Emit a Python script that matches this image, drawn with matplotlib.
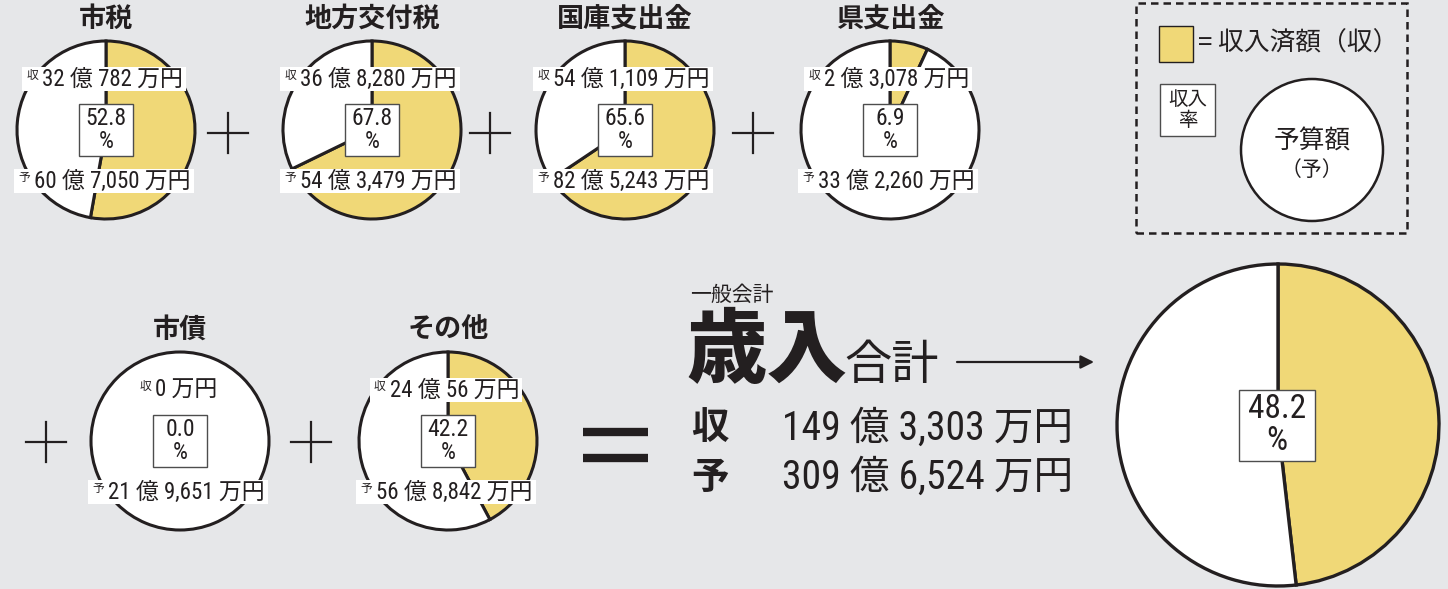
import matplotlib
matplotlib.use('Agg')
import matplotlib.pyplot as plt
from matplotlib import font_manager
from matplotlib.patches import Rectangle, Circle

# --- data ---
titles = ['市税', '地方交付税', '国庫支出金', '県支出金', '市債', 'その他']
rates = [52.8, 67.8, 65.6, 6.9, 0.0, 42.2]
received = ['32 億 782 万円', '36 億 8,280 万円', '54 億 1,109 万円',
            '2 億 3,078 万円', '0 万円', '24 億 56 万円']
budget = ['60 億 7,050 万円', '54 億 3,479 万円', '82 億 5,243 万円',
          '33 億 2,260 万円', '21 億 9,651 万円', '56 億 8,842 万円']
total_rate = 48.2
total_received = '149 億 3,303 万円'
total_budget = '309 億 6,524 万円'

# layout (pixels, y measured from top)
W, H = 1448, 589
centers = [(106, 130), (372, 130), (625, 130), (890, 130), (180, 441), (448, 441)]
radius = 89
plus_pos = [(228, 133), (490, 133), (753, 133), (46, 442), (311, 442)]

bg = '#e6e7e9'
yellow = '#f0d877'
ink = '#231f20'

cjk = 'Noto Sans CJK JP'
names = {f.name for f in font_manager.fontManager.ttflist}
narrow = None
for cand in ['Liberation Sans Narrow', 'Roboto Condensed']:
    if cand in names:
        narrow = cand
        break
num_family = [narrow, cjk] if narrow else [cjk]
plt.rcParams['font.family'] = [cjk, 'DejaVu Sans']

fig = plt.figure(figsize=(W / 100, H / 100), dpi=100, facecolor=bg)
ax = fig.add_axes([0, 0, 1, 1])
ax.set_facecolor(bg)


def Y(py):
    return H - py


def draw_pie(cx, cy, r, rate, lw=2.2):
    ax.pie([rate, 100 - rate], colors=[yellow, 'white'], startangle=90,
           counterclock=False, center=(cx, Y(cy)), radius=r,
           wedgeprops=dict(edgecolor=ink, linewidth=lw))


for (cx, cy), rate in zip(centers, rates):
    draw_pie(cx, cy, radius, rate)
draw_pie(1278, 425, 161, total_rate, lw=2.4)

ax.set_xlim(0, W)
ax.set_ylim(0, H)
ax.set_aspect('equal')
ax.axis('off')
renderer = fig.canvas.get_renderer()


def money_label(cx, cy, tag, value):
    t = ax.text(0, Y(cy), value, fontsize=16.5, family=num_family,
                ha='left', va='center', color=ink, zorder=6)
    w = t.get_window_extent(renderer).width
    sup = 17
    x0 = cx - (w + sup) / 2 + sup
    t.set_x(x0)
    ax.add_patch(Rectangle((x0 - sup - 3, Y(cy) - 12), w + sup + 6, 24,
                           fc='white', ec='none', zorder=5))
    ax.text(x0 - 4, Y(cy) + 10, tag, fontsize=8.5, ha='right', va='top',
            color=ink, zorder=6)


def rate_box(cx, cy, rate, bw=54, bh=52, fs=17):
    ax.add_patch(Rectangle((cx - bw / 2, Y(cy) - bh / 2), bw, bh,
                           fc='white', ec='#4d4d4d', lw=1, zorder=5))
    ax.text(cx, Y(cy), f'{rate:.1f}\n%', fontsize=fs, family=num_family,
            ha='center', va='center', linespacing=1.0, color=ink, zorder=6)


for i, (cx, cy) in enumerate(centers):
    ty = cy - 111
    ax.text(cx, Y(ty), titles[i], fontsize=19.5, fontweight='bold',
            ha='center', va='center', color=ink)
    money_label(cx - 2, cy - 51, '収', received[i])
    money_label(cx - 2, cy + 51, '予', budget[i])
    rate_box(cx, cy, rates[i])

rate_box(1277, 425, total_rate, bw=76, bh=71, fs=24)

# plus signs
for px, py in plus_pos:
    ax.plot([px - 20, px + 20], [Y(py), Y(py)], color=ink, lw=1.6)
    ax.plot([px, px], [Y(py - 20), Y(py + 20)], color=ink, lw=1.6)

# equals sign
for py in (432, 458):
    ax.plot([583, 648], [Y(py), Y(py)], color=ink, lw=6, solid_capstyle='butt')

# total block
ax.text(690, Y(295), '一般会計', fontsize=15, ha='left', va='center', color=ink)
ax.text(686, Y(352), '歳入', fontsize=58, fontweight='heavy', ha='left',
        va='center', color=ink)
ax.text(844, Y(366), '合計', fontsize=34, ha='left', va='center', color=ink)
ax.annotate('', xy=(1094, Y(362)), xytext=(957, Y(362)),
            arrowprops=dict(arrowstyle='-|>', lw=1.6, color=ink,
                            mutation_scale=20, shrinkA=0, shrinkB=0))
ax.text(691, Y(428), '収', fontsize=27, fontweight='bold', ha='left',
        va='center', color=ink)
ax.text(691, Y(477), '予', fontsize=27, fontweight='bold', ha='left',
        va='center', color=ink)
ax.text(782, Y(428), total_received, fontsize=28.5, family=num_family,
        ha='left', va='center', color=ink)
ax.text(782, Y(477), total_budget, fontsize=28.5, family=num_family,
        ha='left', va='center', color=ink)

# legend
ax.add_patch(Rectangle((1136, Y(233)), 271, 230, fc='none', ec=ink, lw=1.8,
                       linestyle=(0, (3, 2))))
ax.add_patch(Rectangle((1159, Y(62)), 34, 36, fc=yellow, ec=ink, lw=1))
ax.text(1198, Y(44), '= 収入済額（収）', fontsize=18.5, ha='left', va='center',
        color=ink)
ax.add_patch(Rectangle((1160, Y(136)), 55, 52, fc='white', ec='#4d4d4d', lw=1))
ax.text(1187.5, Y(110), '収入\n率', fontsize=14, ha='center', va='center',
        linespacing=0.95, color=ink)
ax.add_patch(Circle((1312, Y(150)), 71, fc='white', ec=ink, lw=1.8))
ax.text(1312, Y(142), '予算額', fontsize=18.5, ha='center', va='center', color=ink)
ax.text(1312, Y(170), '（予）', fontsize=15, ha='center', va='center', color=ink)

fig.savefig('out.png', dpi=100, facecolor=bg)
